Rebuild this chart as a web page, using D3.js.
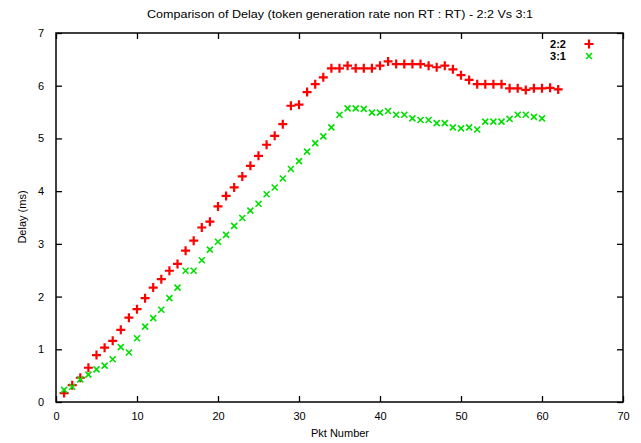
<!DOCTYPE html>
<html><head><meta charset="utf-8">
<script src="https://cdn.jsdelivr.net/npm/d3@7"></script>
<style>body{margin:0;background:#fff}svg{display:block}text{font-family:"Liberation Sans",Arial,sans-serif;fill:#000}</style>
</head><body>
<script>
const title = "Comparison of Delay (token generation rate non RT : RT) - 2:2 Vs 3:1";
const xLabel = "Pkt Number";
const yLabel = "Delay (ms)";
const seriesNames = ["2:2", "3:1"];
const xTicks = [0,10,20,30,40,50,60,70];
const yTicks = [0,1,2,3,4,5,6,7];
const delay22 = [0.17,0.32,0.46,0.65,0.89,1.03,1.16,1.37,1.60,1.76,1.97,2.17,2.33,2.49,2.62,2.87,3.06,3.31,3.42,3.71,
  3.91,4.07,4.28,4.48,4.67,4.88,5.05,5.27,5.62,5.64,5.88,6.03,6.16,6.33,6.33,6.38,6.33,6.33,6.33,6.38,
  6.46,6.41,6.41,6.41,6.41,6.38,6.35,6.38,6.31,6.20,6.11,6.03,6.03,6.03,6.03,5.95,5.95,5.92,5.95,5.95,5.96,5.93];
const delay31 = [0.23,0.29,0.43,0.52,0.62,0.69,0.81,1.04,0.94,1.21,1.43,1.59,1.75,1.97,2.17,2.49,2.49,2.69,2.89,3.04,
  3.17,3.34,3.49,3.63,3.76,3.94,4.07,4.24,4.42,4.57,4.75,4.91,5.04,5.21,5.45,5.57,5.57,5.56,5.49,5.49,
  5.52,5.45,5.45,5.38,5.35,5.35,5.29,5.29,5.21,5.19,5.21,5.17,5.32,5.32,5.32,5.37,5.45,5.45,5.41,5.38];

const W = 641, H = 443;
const m = {l:56, r:623, t:33, b:402};
const svg = d3.select("body").append("svg").attr("width", W).attr("height", H);
const x = d3.scaleLinear().domain([0,70]).range([m.l, m.r]);
const y = d3.scaleLinear().domain([0,7]).range([m.b, m.t]);
const tl = 6;

svg.append("g").attr("transform",`translate(0,${m.b})`)
  .call(d3.axisBottom(x).tickValues(xTicks).tickFormat(d3.format("d")).tickSizeInner(-tl).tickSizeOuter(0).tickPadding(10))
  .call(g=>{g.select(".domain").remove(); g.selectAll("text").attr("font-size",11);});
svg.append("g").attr("transform",`translate(0,${m.t})`)
  .call(d3.axisTop(x).tickValues(xTicks).tickSizeInner(-tl).tickSizeOuter(0).tickFormat(""))
  .call(g=>g.select(".domain").remove());
svg.append("g").attr("transform",`translate(${m.l},0)`)
  .call(d3.axisLeft(y).tickValues(yTicks).tickFormat(d3.format("d")).tickSizeInner(-tl).tickSizeOuter(0).tickPadding(12))
  .call(g=>{g.select(".domain").remove(); g.selectAll("text").attr("font-size",11);});
svg.append("g").attr("transform",`translate(${m.r},0)`)
  .call(d3.axisRight(y).tickValues(yTicks).tickSizeInner(-tl).tickSizeOuter(0).tickFormat(""))
  .call(g=>g.select(".domain").remove());
svg.selectAll(".tick line").attr("stroke","#000").attr("stroke-width",1.3);

svg.append("rect").attr("x",m.l).attr("y",m.t).attr("width",m.r-m.l).attr("height",m.b-m.t)
  .attr("fill","none").attr("stroke","#000").attr("stroke-width",1.5);

svg.append("text").attr("x",340).attr("y",18).attr("text-anchor","middle").attr("font-size",11)
  .attr("textLength",386).attr("lengthAdjust","spacingAndGlyphs").text(title);
svg.append("text").attr("x",340).attr("y",437).attr("text-anchor","middle").attr("font-size",11).text(xLabel);
svg.append("text").attr("transform","translate(26,217) rotate(-90)").attr("text-anchor","middle").attr("font-size",11).text(yLabel);

const red = "#ff0000", green = "#00e000";
function plus(g, cx, cy){
  g.append("path").attr("d",`M${cx-4.5},${cy}H${cx+4.5}M${cx},${cy-4.5}V${cy+4.5}`)
   .attr("stroke",red).attr("stroke-width",2.2).attr("fill","none");
}
function cross(g, cx, cy){
  g.append("path").attr("d",`M${cx-3},${cy-3}L${cx+3},${cy+3}M${cx-3},${cy+3}L${cx+3},${cy-3}`)
   .attr("stroke",green).attr("stroke-width",1.6).attr("fill","none");
}
const g1 = svg.append("g");
delay22.forEach((v,i)=>plus(g1, x(i+1), y(v)));
const g2 = svg.append("g");
delay31.forEach((v,i)=>cross(g2, x(i+1), y(v)));

// legend
svg.append("text").attr("x",566).attr("y",48).attr("text-anchor","end").attr("font-size",11).attr("font-weight","bold").text(seriesNames[0]);
svg.append("text").attr("x",566).attr("y",60).attr("text-anchor","end").attr("font-size",11).attr("font-weight","bold").text(seriesNames[1]);
plus(svg, 589, 44);
cross(svg, 589, 56);
</script>
</body></html>
